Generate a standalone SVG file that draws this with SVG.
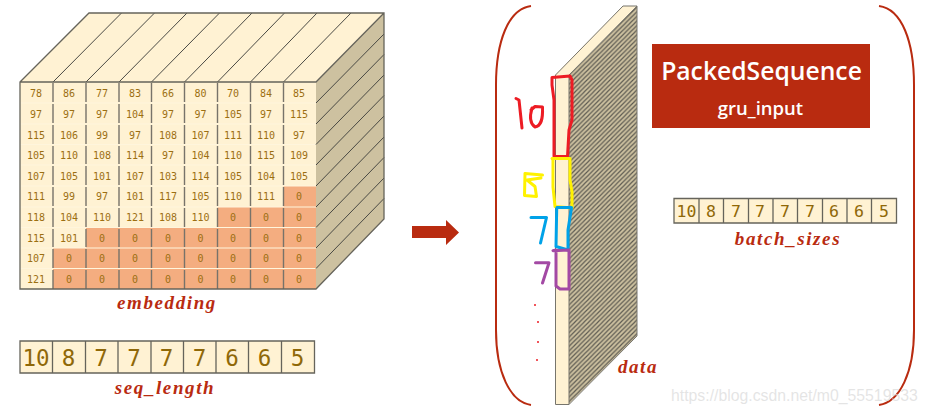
<svg xmlns="http://www.w3.org/2000/svg" width="928" height="413" viewBox="0 0 928 413">
<defs>
<pattern id="hatch" width="4.6" height="4.6" patternUnits="userSpaceOnUse">
<rect width="4.6" height="4.6" fill="#cdc1a0"/>
<path d="M-1.15 1.15L1.15 -1.15M0 4.6L4.6 0M3.45 5.75L5.75 3.45" stroke="#5e5b52" stroke-width="1.2"/>
</pattern>
</defs>
<style>
.cream{fill:#fff2d3}
.side{fill:#cdc1a0}
.pad{fill:#f4ad80}
.edge{fill:none;stroke:#66645b;stroke-width:1.3}
.thin{fill:none;stroke:#77756c;stroke-width:1}
.diag{fill:none;stroke:#4a4a44;stroke-width:1}
.vsep{stroke:#77736a;stroke-width:1.4}
.rowgap{stroke:#fff5dc;stroke-width:1}
.cell{font-family:"DejaVu Sans Mono",monospace;font-size:10px;fill:#9c6f12;text-anchor:middle}
.big{font-family:"DejaVu Sans Mono",monospace;font-size:22.500px;fill:#8f6808;text-anchor:middle}
.mid{font-family:"DejaVu Sans Mono",monospace;font-size:16.5px;fill:#8f6808;text-anchor:middle}
.cap{font-family:"Liberation Serif",serif;font-style:italic;font-weight:bold;fill:#b92b10;font-size:19px;letter-spacing:1.6px;text-anchor:middle}
.bracket{fill:none;stroke:#b92b10;stroke-width:2}
.ink{fill:none;stroke-width:3;stroke-linejoin:round;stroke-linecap:round}
.title{font-family:"Open Sans",sans-serif;font-weight:600;fill:#fff;text-anchor:middle}
.mark{font-family:"Liberation Sans",sans-serif;font-size:15.800px;fill:#dcdcdc;fill-opacity:.75}
</style>

<g id="embedding">
<polygon class="cream" points="20,82 89,13 384,13 316,82"/>
<polygon class="side" points="316,82 384,13 384,219 316,289"/>
<rect class="cream" x="20" y="82" width="296" height="207"/>
<path class="pad" d="M283.500 186H316V289H53V248H86V227H217.500V207H283.500Z"/>
<g class="rowgap">
<path d="M20 103H316M20 124H316M20 144.500H316M20 165H316M20 186H316M20 207H316M20 227.500H316M20 248H316M20 268.500H316"/>
</g>
<g class="vsep">
<path d="M53 83V102M53 104V123M53 125V144M53 146V164M53 166V185M53 187V206M53 208V227M53 229V247M53 249V268M53 270V289"/>
<path d="M86 83V102M86 104V123M86 125V144M86 146V164M86 166V185M86 187V206M86 208V227M86 229V247M86 249V268M86 270V289"/>
<path d="M119 83V102M119 104V123M119 125V144M119 146V164M119 166V185M119 187V206M119 208V227M119 229V247M119 249V268M119 270V289"/>
<path d="M151.500 83V102M151.500 104V123M151.500 125V144M151.500 146V164M151.500 166V185M151.500 187V206M151.500 208V227M151.500 229V247M151.500 249V268M151.500 270V289"/>
<path d="M184.500 83V102M184.500 104V123M184.500 125V144M184.500 146V164M184.500 166V185M184.500 187V206M184.500 208V227M184.500 229V247M184.500 249V268M184.500 270V289"/>
<path d="M217.500 83V102M217.500 104V123M217.500 125V144M217.500 146V164M217.500 166V185M217.500 187V206M217.500 208V227M217.500 229V247M217.500 249V268M217.500 270V289"/>
<path d="M250.500 83V102M250.500 104V123M250.500 125V144M250.500 146V164M250.500 166V185M250.500 187V206M250.500 208V227M250.500 229V247M250.500 249V268M250.500 270V289"/>
<path d="M283.500 83V102M283.500 104V123M283.500 125V144M283.500 146V164M283.500 166V185M283.500 187V206M283.500 208V227M283.500 229V247M283.500 249V268M283.500 270V289"/>
</g>
<path class="diag" d="M53 82L121.500 13M86 82L154.500 13M119 82L187 13M151.500 82L219.500 13M184.500 82L252 13M217.500 82L284.500 13M250.500 82L317 13M283.500 82L351 13"/>
<path class="diag" d="M316 103L384 34M316 124L384 54.500M316 144.500L384 75M316 165L384 95.500M316 186L384 116M316 207L384 137M316 227.500L384 157.500M316 248L384 178M316 268.500L384 198.500"/>
<path class="edge" d="M20 82L89 13H384V219L316 289H20ZM20 82H316L384 13"/>
<g class="cell">
<text x="36" y="97">78</text><text x="69" y="97">86</text><text x="102" y="97">77</text><text x="135" y="97">83</text><text x="168" y="97">66</text><text x="200.500" y="97">80</text><text x="233" y="97">70</text><text x="266" y="97">84</text><text x="299" y="97">85</text>
<text x="36" y="118">97</text><text x="69" y="118">97</text><text x="102" y="118">97</text><text x="135" y="118">104</text><text x="168" y="118">97</text><text x="200.500" y="118">97</text><text x="233" y="118">105</text><text x="266" y="118">97</text><text x="299" y="118">115</text>
<text x="36" y="139">115</text><text x="69" y="139">106</text><text x="102" y="139">99</text><text x="135" y="139">97</text><text x="168" y="139">108</text><text x="200.500" y="139">107</text><text x="233" y="139">111</text><text x="266" y="139">110</text><text x="299" y="139">97</text>
<text x="36" y="159">105</text><text x="69" y="159">110</text><text x="102" y="159">108</text><text x="135" y="159">114</text><text x="168" y="159">97</text><text x="200.500" y="159">104</text><text x="233" y="159">110</text><text x="266" y="159">115</text><text x="299" y="159">109</text>
<text x="36" y="180">107</text><text x="69" y="180">105</text><text x="102" y="180">101</text><text x="135" y="180">107</text><text x="168" y="180">103</text><text x="200.500" y="180">114</text><text x="233" y="180">105</text><text x="266" y="180">104</text><text x="299" y="180">105</text>
<text x="36" y="200">111</text><text x="69" y="200">99</text><text x="102" y="200">97</text><text x="135" y="200">101</text><text x="168" y="200">117</text><text x="200.500" y="200">105</text><text x="233" y="200">110</text><text x="266" y="200">111</text><text x="299" y="200">0</text>
<text x="36" y="221">118</text><text x="69" y="221">104</text><text x="102" y="221">110</text><text x="135" y="221">121</text><text x="168" y="221">108</text><text x="200.500" y="221">110</text><text x="233" y="221">0</text><text x="266" y="221">0</text><text x="299" y="221">0</text>
<text x="36" y="242">115</text><text x="69" y="242">101</text><text x="102" y="242">0</text><text x="135" y="242">0</text><text x="168" y="242">0</text><text x="200.500" y="242">0</text><text x="233" y="242">0</text><text x="266" y="242">0</text><text x="299" y="242">0</text>
<text x="36" y="262">107</text><text x="69" y="262">0</text><text x="102" y="262">0</text><text x="135" y="262">0</text><text x="168" y="262">0</text><text x="200.500" y="262">0</text><text x="233" y="262">0</text><text x="266" y="262">0</text><text x="299" y="262">0</text>
<text x="36" y="283">121</text><text x="69" y="283">0</text><text x="102" y="283">0</text><text x="135" y="283">0</text><text x="168" y="283">0</text><text x="200.500" y="283">0</text><text x="233" y="283">0</text><text x="266" y="283">0</text><text x="299" y="283">0</text>
</g>
<text class="cap" x="167" y="309">embedding</text>
</g>

<g id="seq_length">
<rect class="cream" x="20" y="341" width="294.500" height="32"/>
<path class="edge" d="M20 341H314.500V373H20ZM52.500 341V373M85.500 341V373M118 341V373M151 341V373M183.500 341V373M216 341V373M248.500 341V373M281.500 341V373"/>
<g class="big">
<text x="36" y="366">10</text><text x="68.500" y="366">8</text><text x="101" y="366">7</text><text x="134" y="366">7</text><text x="166.500" y="366">7</text><text x="199.500" y="366">7</text><text x="232" y="366">6</text><text x="264.500" y="366">6</text><text x="297.500" y="366">5</text>
</g>
<text class="cap" x="165" y="394">seq_length</text>
</g>

<g id="arrow">
<polygon fill="#b92b10" points="412,226 446,226 446,220 459,232.500 446,245 446,238 412,238"/>
</g>

<g id="packed-bracket">
<path class="bracket" d="M531 6C508 9 496 42 496 85V330C496 372 510 402 531 405"/>
<path class="bracket" d="M879 6C902 9 914 42 914 85V330C914 372 900 402 879 405"/>
</g>

<g id="data">
<polygon fill="url(#hatch)" points="569,75 637,6 637,336 569,404"/>
<polygon class="cream" points="555,75 623,6 637,6 569,75"/>
<rect class="cream" x="555.500" y="75" width="13.500" height="329"/>
<path class="thin" d="M555.500 75L623 6H637V336L569 404.500H555.500ZM569 75L637 6M569 75V404.500"/>
<text class="cap" x="638" y="373">data</text>
</g>

<g id="annotations">
<path class="ink" stroke="#ed1c24" d="M552 77.500L570 76L572 80V120L569 130L567.500 156.500H554V100L552 85ZM516 98.500L519 100L522 128M532 108C530 115 529 123 535 127C541 126 543 120 542.500 107L535 106.500L531 110"/>
<path class="ink" stroke="#fff200" d="M552 158.500H570L570 180L572 191.500V208L555 206.500L553 187V160ZM542.500 175L525 173.500L524.500 195.500L536.500 196.500L535 186.500L527 180L541 178"/>
<path class="ink" stroke="#00a2e8" d="M557 207.500H571.500L568 230V250L556 246.500L556.700 208.500ZM531 217.500H546.500L540.500 243"/>
<path class="ink" stroke="#a349a4" d="M553 250.700L569 250V289H560L556 286V250ZM535.500 262.700H549L542.500 283"/>
<g fill="#ed1c24"><circle cx="535" cy="305" r="1"/><circle cx="538" cy="322" r="1"/><circle cx="538" cy="342" r="1"/><circle cx="537" cy="360" r="1"/></g>
</g>

<g id="packed-sequence">
<rect x="652" y="44" width="218" height="84" fill="#b92b10"/>
<text class="title" x="761.500" y="80" font-size="24.700">PackedSequence</text>
<text class="title" x="760.500" y="115" font-size="18.500">gru_input</text>
</g>

<g id="batch_sizes">
<rect class="cream" x="674" y="198.500" width="222.500" height="24.500"/>
<path class="edge" d="M674 198.500H896.500V223H674ZM699 198.500V223M723.500 198.500V223M748.500 198.500V223M773 198.500V223M797.500 198.500V223M822.500 198.500V223M847 198.500V223M871.500 198.500V223"/>
<g class="mid">
<text x="686.500" y="217">10</text><text x="711" y="217">8</text><text x="736" y="217">7</text><text x="760" y="217">7</text><text x="785" y="217">7</text><text x="810" y="217">7</text><text x="834" y="217">6</text><text x="859" y="217">6</text><text x="884" y="217">5</text>
</g>
<text class="cap" x="788" y="245">batch_sizes</text>
</g>

<text class="mark" x="671" y="401">https://blog.csdn.net/m0_55519533</text>
</svg>
